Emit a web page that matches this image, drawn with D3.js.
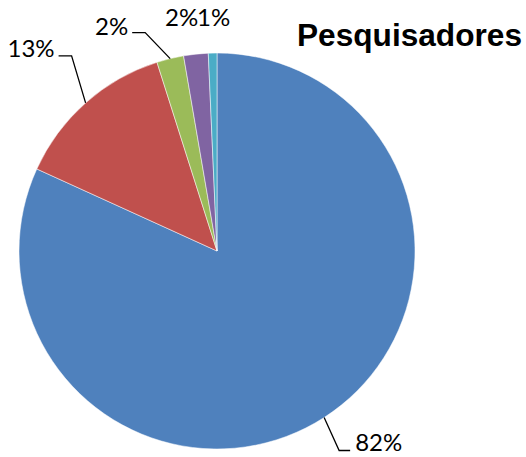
<!DOCTYPE html>
<html>
<head>
<meta charset="utf-8">
<script src="https://cdn.jsdelivr.net/npm/d3@7"></script>
<style>
  body { margin: 0; background: #fff; }
  .title { font-family: "Liberation Sans", Arial, sans-serif; font-weight: bold; }
  .lbl { font-family: Lato, "Open Sans", sans-serif; font-size: 24px; fill: #000; }
  .leader { fill: none; stroke: #000; stroke-width: 1.3; }
</style>
</head>
<body>
<script>
// Pie data (share of researchers)
var categories = ["A", "B", "C", "D", "E"];
var values = [81.8, 13.3, 2.2, 2.0, 0.7];
var labels = ["82%", "13%", "2%", "2%", "1%"];
var colors = ["#4F81BD", "#C0504D", "#9BBB59", "#8064A2", "#4BACC6"];

var w = 526, h = 457;
var cx = 217, cy = 251, r = 198;

var svg = d3.select("body").append("svg")
    .attr("width", w)
    .attr("height", h);

var g = svg.append("g")
    .attr("transform", "translate(" + cx + "," + cy + ")");

var pie = d3.pie().sort(null).value(function(d) { return d; });
var arcs = pie(values);
var arc = d3.arc().innerRadius(0).outerRadius(r);

g.selectAll("path.slice")
    .data(arcs)
    .enter().append("path")
    .attr("class", "slice")
    .attr("d", arc)
    .attr("fill", function(d, i) { return colors[i]; })
    .attr("stroke", "#fff")
    .attr("stroke-width", 0.5);

// label placement: elbow offset from the edge point, line end, text anchor point
// (leader = false means the label sits freely with no line)
var labelLayout = [
    { leader: true, ex: 15, ey: 33, lx: 26, ly: 33, tx: 31, ty: 33, anchor: "start" },
    { leader: true, ex: -14, ey: -47, lx: -27, ly: -47, tx: -31, ty: -46, anchor: "end" },
    { leader: true, ex: -25, ey: -26, lx: -38, ly: -26, tx: -42, ty: -24, anchor: "end" },
    { leader: false, tx: 165 - cx, ty: 26 - cy, anchor: "start" },
    { leader: false, tx: 197 - cx, ty: 26 - cy, anchor: "start" }
];

arcs.forEach(function(d, i) {
    var mid = (d.startAngle + d.endAngle) / 2;
    var px = r * Math.sin(mid);
    var py = -r * Math.cos(mid);
    var L = labelLayout[i];
    if (L.leader) {
        g.append("polyline")
            .attr("class", "leader")
            .attr("points", px + "," + py + " " + (px + L.ex) + "," + (py + L.ey) + " " + (px + L.lx) + "," + (py + L.ly));
        g.append("text")
            .attr("class", "lbl")
            .attr("x", px + L.tx)
            .attr("y", py + L.ty)
            .attr("text-anchor", L.anchor)
            .text(labels[i]);
    } else {
        g.append("text")
            .attr("class", "lbl")
            .attr("x", L.tx)
            .attr("y", L.ty)
            .attr("text-anchor", L.anchor)
            .text(labels[i]);
    }
});

svg.append("text")
    .attr("class", "title")
    .attr("x", 297)
    .attr("y", 46)
    .attr("font-size", 31)
    .attr("textLength", 225)
    .attr("lengthAdjust", "spacingAndGlyphs")
    .text("Pesquisadores");
</script>
</body>
</html>
